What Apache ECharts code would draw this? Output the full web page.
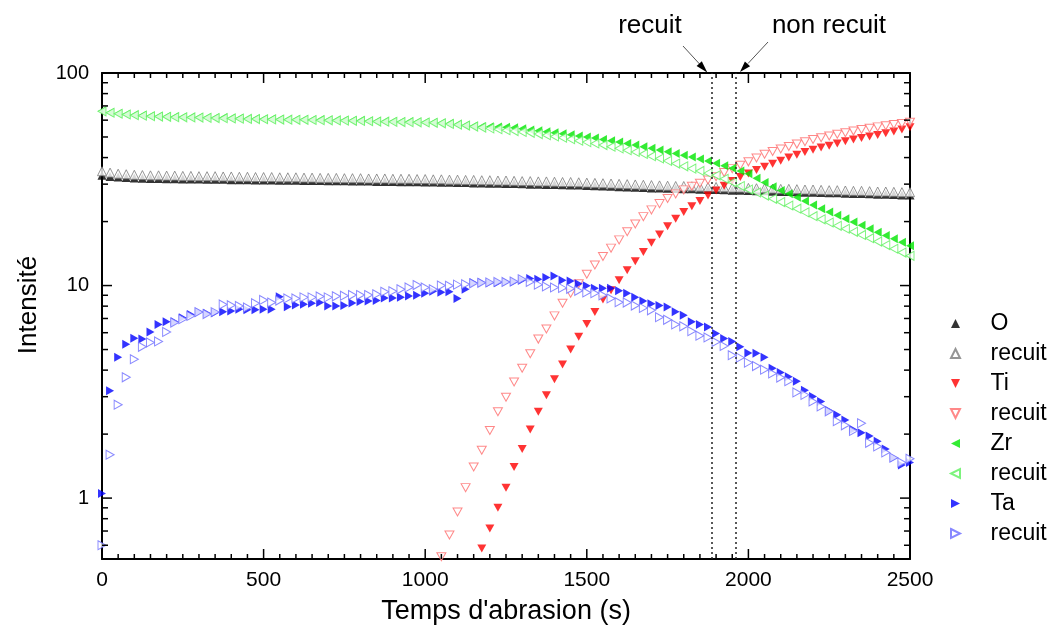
<!DOCTYPE html>
<html><head><meta charset="utf-8">
<script src="https://cdn.jsdelivr.net/npm/echarts@6/dist/echarts.min.js"></script>
<style>html,body{margin:0;padding:0;background:#fff}#c{width:1048px;height:630px}</style>
</head><body><div id="c"></div>
<script>
// ---- data (time in s, intensity) ----
const times = [0,25,50,75,100,125,150,175,200,225,250,275,300,325,350,375,400,425,450,475,
500,525,550,575,600,625,650,675,700,725,750,775,800,825,850,875,900,925,950,975,
1000,1025,1050,1075,1100,1125,1150,1175,1200,1225,1250,1275,1300,1325,1350,1375,1400,1425,1450,1475,
1500,1525,1550,1575,1600,1625,1650,1675,1700,1725,1750,1775,1800,1825,1850,1875,1900,1925,1950,1975,
2000,2025,2050,2075,2100,2125,2150,2175,2200,2225,2250,2275,2300,2325,2350,2375,2400,2425,2450,2475,2500];

const oFilled = [33.0,32.6,32.4,32.2,32.1,32.0,31.9,31.9,31.8,31.8,
31.7,31.7,31.7,31.6,31.6,31.6,31.5,31.5,31.5,31.4,
31.4,31.4,31.3,31.3,31.3,31.2,31.2,31.2,31.1,31.1,
31.1,31.0,31.0,31.0,30.9,30.9,30.9,30.8,30.8,30.8,
30.7,30.7,30.6,30.6,30.5,30.5,30.4,30.4,30.3,30.3,
30.2,30.2,30.1,30.0,30.0,29.9,29.9,29.8,29.7,29.7,
29.6,29.5,29.4,29.3,29.2,29.1,29.0,28.9,28.8,28.8,
28.7,28.6,28.5,28.5,28.4,28.3,28.3,28.2,28.1,28.1,
28.0,27.9,27.9,27.8,27.7,27.7,27.6,27.5,27.5,27.4,
27.3,27.3,27.2,27.1,27.1,27.0,26.9,26.9,26.8,26.7,26.7];

const oRecuit = [34.5,34.0,33.6,33.4,33.2,33.1,33.0,33.0,32.9,32.9,
32.8,32.8,32.7,32.7,32.7,32.6,32.6,32.5,32.5,32.4,
32.4,32.4,32.3,32.3,32.3,32.2,32.2,32.1,32.1,32.1,
32.0,32.0,32.0,31.9,31.9,31.9,31.8,31.8,31.8,31.7,
31.7,31.6,31.6,31.5,31.5,31.4,31.4,31.3,31.3,31.2,
31.2,31.1,31.0,31.0,30.9,30.9,30.8,30.7,30.7,30.6,
30.5,30.4,30.3,30.2,30.1,30.0,29.9,29.8,29.7,29.6,
29.5,29.4,29.4,29.3,29.2,29.1,29.1,29.0,28.9,28.9,
28.8,28.7,28.7,28.6,28.5,28.5,28.4,28.3,28.3,28.2,
28.1,28.1,28.0,27.9,27.9,27.8,27.7,27.7,27.6,27.5,27.5];

// Ti starts at 1175 s (filled) and 1050 s (recuit); earlier points are below the axis
const tiFilled = [0.58,0.72,0.90,1.12,1.40,1.70,2.10,2.55,3.05,3.62,
4.25,5.00,5.75,6.60,7.50,8.60,9.50,10.6,11.8,13.0,
14.4,15.9,17.4,19.0,20.6,22.2,23.6,25.0,26.5,28.0,
29.5,31.0,32.4,33.7,35.0,36.2,37.4,38.6,40.0,41.3,
42.5,43.6,44.6,45.5,46.6,47.7,48.6,49.5,50.3,51.1,
52.0,53.0,54.2,55.5];

const tiRecuit = [0.53,0.67,0.86,1.12,1.40,1.68,2.08,2.55,2.98,3.52,
4.08,4.78,5.60,6.25,7.20,8.25,9.20,10.2,11.3,12.5,
13.7,15.0,16.4,17.9,19.5,21.1,22.7,24.3,25.7,27.0,
28.2,29.3,30.3,31.4,32.5,34.0,35.5,36.8,38.2,39.8,
41.5,42.7,43.9,45.1,46.3,47.5,48.7,49.6,50.5,51.5,
52.4,53.3,54.2,55.0,55.8,56.5,57.2,57.9,58.6];

const zrFilled = [66.2,65.2,64.5,64.0,63.5,63.2,62.8,62.6,62.4,62.2,
62.1,62.0,61.9,61.7,61.6,61.5,61.3,61.2,61.0,60.9,
60.8,60.7,60.6,60.5,60.4,60.4,60.3,60.2,60.1,60.0,
59.9,59.8,59.7,59.5,59.3,59.2,59.1,59.0,58.9,58.8,
58.7,58.5,58.2,57.8,57.3,56.8,56.3,56.0,55.9,55.7,
55.5,55.2,54.6,54.0,53.5,52.9,52.4,51.8,51.2,50.6,
50.0,49.4,48.7,48.0,47.3,46.6,45.8,45.0,44.2,43.4,
42.6,41.8,41.0,40.2,39.4,38.5,37.6,36.6,35.6,34.6,
33.6,32.0,30.5,29.2,28.0,27.0,26.0,25.0,23.9,23.0,
22.2,21.4,20.6,19.9,19.2,18.5,17.8,17.2,16.6,16.0,15.4];

const zrRecuit = [66.0,65.0,64.3,63.8,63.3,63.0,62.6,62.4,62.2,62.0,
61.9,61.8,61.7,61.5,61.4,61.3,61.1,61.0,60.8,60.7,
60.6,60.5,60.4,60.3,60.2,60.2,60.1,60.0,59.9,59.8,
59.7,59.6,59.5,59.3,59.1,59.0,58.9,58.8,58.7,58.6,
58.5,58.3,58.0,57.6,57.1,56.6,56.0,55.4,54.9,54.4,
53.8,53.3,52.8,52.3,51.6,51.0,50.3,49.6,48.8,48.0,
47.3,46.6,45.8,45.0,44.2,43.3,42.5,41.6,40.6,39.6,
38.6,37.5,36.4,35.5,34.6,33.8,33.0,31.8,30.6,29.4,
28.3,27.4,26.5,25.6,24.7,23.8,23.0,22.1,21.2,20.5,
19.8,19.1,18.5,17.9,17.3,16.7,16.1,15.5,14.9,14.3,13.8];

const taFilled = [1.05,3.2,4.6,5.3,5.65,5.6,6.05,6.55,6.75,6.75,
7.05,7.3,7.5,7.4,7.45,7.52,7.6,7.74,7.7,7.7,
7.74,7.74,8.85,7.95,8.1,8.17,8.26,8.32,8.02,8.02,
8.05,8.28,8.42,8.45,8.5,8.75,8.75,8.8,8.92,9.0,
9.2,9.4,9.3,9.35,8.7,9.6,10.3,10.35,10.3,10.3,
10.4,10.4,10.6,10.8,10.7,10.9,11.1,10.6,10.5,10.2,
9.97,9.7,9.7,9.7,9.45,9.2,8.8,8.45,8.2,8.05,
7.92,7.52,7.25,6.75,6.55,6.38,5.95,5.63,5.45,5.15,
4.81,4.8,4.6,4.08,3.9,3.72,3.55,3.22,3.01,2.85,
2.58,2.47,2.33,2.1,2.03,1.96,1.85,1.7,1.55,1.43,1.47];

const taRecuit = [0.60,1.6,2.75,3.7,4.5,5.15,5.4,5.46,6.05,6.7,
6.95,7.2,7.5,7.34,7.5,8.15,8.08,8.02,7.89,8.26,
8.56,8.32,8.5,8.7,8.7,8.8,8.8,8.89,8.8,8.9,
8.96,9.02,9.02,9.02,9.1,9.35,9.4,9.6,9.8,10.05,
9.8,9.6,10.0,9.97,10.1,10.15,10.25,10.3,10.35,10.4,
10.4,10.45,10.7,10.4,10.1,9.9,9.79,9.75,9.65,9.45,
9.28,9.2,9.0,8.7,8.35,8.32,8.05,7.85,7.65,7.1,
6.9,6.56,6.43,6.1,5.81,5.7,5.43,5.2,4.7,4.58,
4.34,4.18,4.02,3.86,3.69,3.55,3.14,3.06,2.85,2.70,
2.56,2.30,2.20,2.07,2.25,1.82,1.75,1.64,1.55,1.47,1.53];

const xMajorTicks = [0, 500, 1000, 1500, 2000, 2500];
const xMinorStep = 50;
const yLabelValues = [1, 10, 100];
const yMinorTicks = [0.6,0.7,0.8,0.9,2,3,4,5,6,7,8,9,20,30,40,50,60,70,80,90];
const annealTimes = [1887, 1960];   // dotted lines: recuit / non recuit
const xMin = 0, xMax = 2500, yMin = 0.517, yMax = 100;

// ---- helpers ----
const FONT = 'Liberation Sans, Arial, Helvetica, sans-serif';
const pair = vals => { const t = times.slice(times.length - vals.length); return vals.map((v, i) => [t[i], v]); };
const SYM = {
  up: 'path://M5,0L10,10L0,10Z',
  down: 'path://M0,0L10,0L5,10Z',
  left: 'path://M10,0L10,10L0,5Z',
  right: 'path://M0,0L10,5L0,10Z'
};
function sc(name, vals, color, sym, open, size) {
  return {
    type: 'scatter', name, data: pair(vals), symbol: SYM[sym], symbolSize: size,
    itemStyle: open ? { color: '#fff', borderColor: color, borderWidth: 1 } : { color: color, borderWidth: 0 },
    emphasis: { disabled: true }, silent: true, animation: false
  };
}

const series = [
  sc('O', oFilled, '#000000', 'up', false, [9, 9]),
  sc('O recuit', oRecuit, '#7a7a7a', 'up', true, [9, 9]),
  sc('Ti', tiFilled, '#ff0000', 'down', false, [9, 8]),
  sc('Ti recuit', tiRecuit, '#ff6a6a', 'down', true, [9, 8]),
  sc('Zr', zrFilled, '#00e600', 'left', false, [8, 9]),
  sc('Zr recuit', zrRecuit, '#5cf05c', 'left', true, [8, 9]),
  sc('Ta', taFilled, '#0000ff', 'right', false, [8, 9]),
  sc('Ta recuit', taRecuit, '#6a6aff', 'right', true, [8, 9])
];
series[0].markLine = {
  silent: true, symbol: 'none', animation: false,
  label: { show: false },
  lineStyle: { color: '#222', width: 1.5, type: [2, 3] },
  data: annealTimes.map(t => ({ xAxis: t }))
};

const axisLine = { show: true, onZero: false, lineStyle: { color: '#000', width: 2 } };
const noTick = { show: false };
const isMajor = v => yLabelValues.some(m => Math.abs(v - m) / m < 1e-4);

const baseGraphic = [
  { type: 'text', x: 650, y: 26, silent: true,
    style: { text: 'recuit', font: '26px ' + FONT, fill: '#000', align: 'center', verticalAlign: 'middle', textAlign: 'center', textVerticalAlign: 'middle' } },
  { type: 'text', x: 829, y: 26, silent: true,
    style: { text: 'non recuit', font: '26px ' + FONT, fill: '#000', align: 'center', verticalAlign: 'middle', textAlign: 'center', textVerticalAlign: 'middle' } },
  { type: 'line', silent: true, shape: { x1: 683, y1: 46, x2: 700, y2: 64.5 }, style: { stroke: '#555', lineWidth: 1 } },
  { type: 'polygon', silent: true, shape: { points: [[707.3, 72.5], [696.6, 65.9], [701.8, 61.3]] }, style: { fill: '#000' } },
  { type: 'line', silent: true, shape: { x1: 768, y1: 42, x2: 748, y2: 63.5 }, style: { stroke: '#555', lineWidth: 1 } },
  { type: 'polygon', silent: true, shape: { points: [[740, 72], [744.9, 61.5], [750.1, 66.3]] }, style: { fill: '#000' } }
];

const option = {
  animation: false,
  backgroundColor: '#fff',
  textStyle: { fontFamily: FONT },
  grid: { left: 102, right: 138, top: 73, bottom: 70, containLabel: false },
  xAxis: [
    { type: 'value', min: xMin, max: xMax, interval: 500, position: 'bottom',
      axisLine, axisTick: noTick, minorTick: noTick, splitLine: { show: false },
      axisLabel: { fontSize: 21, color: '#000', margin: 11, fontFamily: FONT, formatter: v => String(v) },
      name: "Temps d'abrasion (s)", nameLocation: 'middle', nameGap: 39,
      nameTextStyle: { fontSize: 27, color: '#000', fontFamily: FONT } },
    { type: 'value', min: xMin, max: xMax, interval: 500, position: 'top',
      axisLine, axisTick: noTick, minorTick: noTick, splitLine: { show: false },
      axisLabel: { show: false } }
  ],
  yAxis: [
    { type: 'log', logBase: 10, min: yMin, max: yMax, position: 'left',
      axisLine, axisTick: noTick, splitLine: { show: false }, minorTick: noTick,
      axisLabel: { fontSize: 20, color: '#000', margin: 13, fontFamily: FONT,
        showMinLabel: true, showMaxLabel: true,
        formatter: v => isMajor(v) ? String(Math.round(v)) : '' },
      name: 'Intensité', nameLocation: 'middle', nameGap: 60,
      nameTextStyle: { fontSize: 26, color: '#000', fontFamily: FONT, padding: [0, 0, 0, 22] } },
    { type: 'log', logBase: 10, min: yMin, max: yMax, position: 'right',
      axisLine, axisTick: noTick, splitLine: { show: false }, minorTick: noTick,
      axisLabel: { show: false } }
  ],
  legend: {
    orient: 'vertical', left: 945, top: 307,
    itemWidth: 60, itemHeight: 9, itemGap: 7,
    selectedMode: false,
    data: series.map(s => s.name),
    formatter: n => (n.indexOf('recuit') >= 0 ? 'recuit' : n),
    textStyle: { fontSize: 23, lineHeight: 23, color: '#000', fontFamily: FONT, padding: [0, 0, 0, 0] }
  },
  graphic: baseGraphic,
  series
};
const chart = echarts.init(document.getElementById('c'), null, { renderer: 'canvas' });
chart.setOption(option);

// ---- axis ticks (inside, on all four sides), positioned through the chart's own scales ----
const toPx = (x, y) => chart.convertToPixel({ xAxisIndex: 0, yAxisIndex: 0 }, [x, y]);
const tickG = [];
const tk = (x1, y1, x2, y2) => tickG.push({ type: 'line', silent: true, z: 50,
  shape: { x1, y1, x2, y2 }, style: { stroke: '#000', lineWidth: 1.5 } });
function xTick(t, len) {
  const b = toPx(t, yMin), tp = toPx(t, yMax);
  tk(b[0], b[1], b[0], b[1] - len);
  tk(tp[0], tp[1], tp[0], tp[1] + len);
}
function yTick(v, len) {
  const l = toPx(xMin, v), r = toPx(xMax, v);
  tk(l[0], l[1], l[0] + len, l[1]);
  tk(r[0], r[1], r[0] - len, r[1]);
}
xMajorTicks.forEach(t => xTick(t, 10));
for (let i = 0; i < xMajorTicks.length - 1; i++) {
  for (let t = xMajorTicks[i] + xMinorStep; t < xMajorTicks[i + 1]; t += xMinorStep) xTick(t, 5);
}
yLabelValues.forEach(v => yTick(v, 10));
yMinorTicks.forEach(v => yTick(v, 6));
chart.setOption({ graphic: baseGraphic.concat(tickG) });
</script>
</body></html>
